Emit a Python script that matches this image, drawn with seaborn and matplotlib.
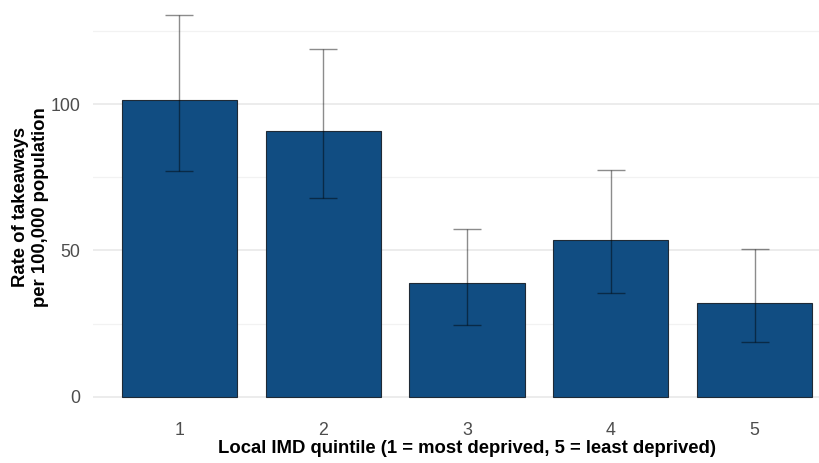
import matplotlib
matplotlib.use("Agg")
import matplotlib.pyplot as plt
import seaborn as sns
import pandas as pd
import numpy as np

quintiles = ["1", "2", "3", "4", "5"]
rates = [101.3, 90.9, 38.8, 53.6, 32.0]
lower = [77.1, 68.0, 24.7, 35.6, 18.9]
upper = [130.3, 118.9, 57.3, 77.5, 50.4]

df = pd.DataFrame({"quintile": quintiles, "rate": rates, "lower": lower, "upper": upper})

sns.set_theme(style="white")
plt.rcParams["font.family"] = ["Liberation Sans", "DejaVu Sans"]

fig = plt.figure(figsize=(8.2, 4.63), dpi=100)
ax = fig.add_axes([93 / 820, 1 - 416 / 463, (841 - 93) / 820, (416 + 3.8) / 463])

sns.barplot(data=df, x="quintile", y="rate", color="#114D82", saturation=1,
            width=0.8, edgecolor="#1f2a36", linewidth=0.8, ax=ax, zorder=2)

xpos = np.arange(len(quintiles))
yerr = [np.array(rates) - np.array(lower), np.array(upper) - np.array(rates)]
ax.errorbar(xpos, rates, yerr=yerr, fmt="none", ecolor="black", alpha=0.45,
            elinewidth=1.0, capsize=10, capthick=1.0, zorder=3)

ax.set_xlim(-0.6, 4.6)
ax.set_ylim(-6.5, 136.8)
ax.set_yticks([0, 50, 100])
ax.set_yticks([25, 75, 125], minor=True)
ax.grid(axis="y", which="major", color="#ebebeb", linewidth=1.3, zorder=0)
ax.grid(axis="y", which="minor", color="#f2f2f2", linewidth=0.9, zorder=0)
ax.grid(axis="x", visible=False)
ax.set_axisbelow(True)
for s in ax.spines.values():
    s.set_visible(False)

ax.tick_params(axis="both", which="both", length=0, labelsize=12.8, labelcolor="#4d4d4d")
ax.tick_params(axis="x", pad=4)
ax.tick_params(axis="y", pad=9)

ax.set_xlabel("Local IMD quintile (1 = most deprived, 5 = least deprived)",
              fontsize=13.3, fontweight="bold", color="black", labelpad=1)
ax.set_ylabel("Rate of takeaways\nper 100,000 population",
              fontsize=13.3, fontweight="bold", color="black",
              linespacing=1.25)
ax.yaxis.set_label_coords((49 - 93) / 748, (416 - 207) / 419.8)

fig.savefig("out.png", dpi=100)
